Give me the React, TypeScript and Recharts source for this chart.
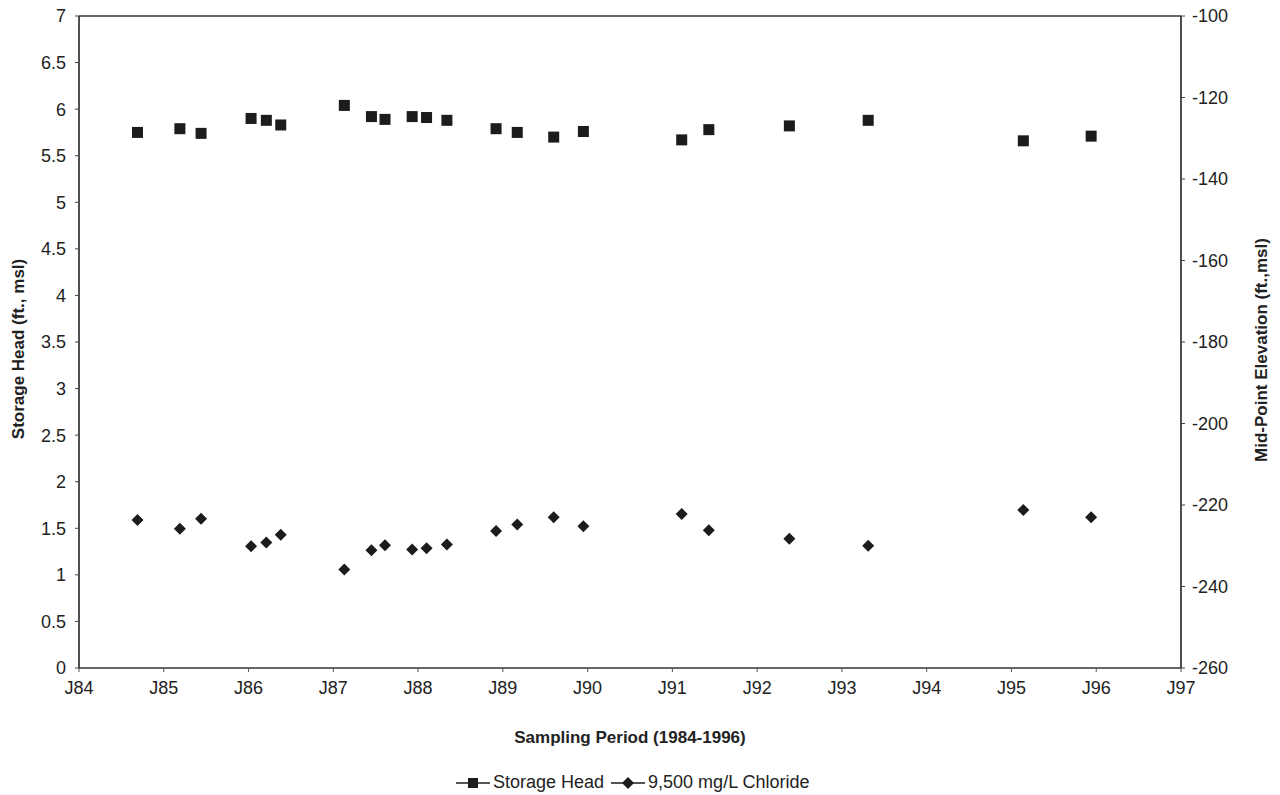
import React from 'react';
import { ComposedChart, Scatter, XAxis, YAxis, Legend, Label, ReferenceLine } from 'recharts';

// Sampling dates as decimal years (two-digit year + fraction)
const sampleDates = [
  84.69, 85.19, 85.44, 86.03, 86.21, 86.38, 87.13, 87.45, 87.61, 87.93, 88.1,
  88.34, 88.92, 89.17, 89.6, 89.95, 91.11, 91.43, 92.38, 93.31, 95.14, 95.94,
];
// Storage head (ft., msl) – left axis
const storageHead = [
  5.75, 5.79, 5.74, 5.9, 5.88, 5.83, 6.04, 5.92, 5.89, 5.92, 5.91,
  5.88, 5.79, 5.75, 5.7, 5.76, 5.67, 5.78, 5.82, 5.88, 5.66, 5.71,
];
// 9,500 mg/L chloride mid-point elevation (ft., msl) – right axis
const chlorideElevation = [
  -223.7, -225.8, -223.4, -230.1, -229.2, -227.3, -235.8, -231.1, -229.9, -230.9, -230.6,
  -229.7, -226.4, -224.8, -223.0, -225.2, -222.2, -226.2, -228.3, -230.0, -221.2, -223.0,
];
const yearTicks = [84, 85, 86, 87, 88, 89, 90, 91, 92, 93, 94, 95, 96, 97];
const leftTicks = [0, 0.5, 1, 1.5, 2, 2.5, 3, 3.5, 4, 4.5, 5, 5.5, 6, 6.5, 7];
const rightTicks = [-260, -240, -220, -200, -180, -160, -140, -120, -100];
const seriesNames = ['Storage Head', '9,500 mg/L Chloride'];

const headData = sampleDates.map((x, i) => ({ x, y: storageHead[i] }));
const chlorideData = sampleDates.map((x, i) => ({ x, y: chlorideElevation[i] }));

const INK = '#1c1c1c';
const FONT = '"Liberation Sans", Arial, sans-serif';

const SquareShape = (props: any) => {
  const { cx, cy } = props;
  if (cx == null || cy == null) return null;
  return <rect x={cx - 5.5} y={cy - 5.5} width={11} height={11} fill={INK} />;
};

const DiamondShape = (props: any) => {
  const { cx, cy } = props;
  if (cx == null || cy == null) return null;
  const r = 6;
  return <path d={`M${cx},${cy - r}L${cx + r},${cy}L${cx},${cy + r}L${cx - r},${cy}Z`} fill={INK} />;
};

const LegendContent = () => (
  <div style={{ display: 'flex', alignItems: 'center', fontFamily: FONT, fontSize: 18, color: '#222', whiteSpace: 'nowrap' }}>
    {seriesNames.map((name, i) => (
      <div key={name} style={{ display: 'flex', alignItems: 'center', marginRight: 6 }}>
        <svg width={36} height={14}>
          <line x1={1} y1={7} x2={35} y2={7} stroke={INK} strokeWidth={1.3} />
          {i === 0 ? (
            <rect x={13} y={2} width={10} height={10} fill={INK} />
          ) : (
            <path d="M18,1L24,7L18,13L12,7Z" fill={INK} />
          )}
        </svg>
        <span style={{ marginLeft: 2 }}>{name}</span>
      </div>
    ))}
  </div>
);

const tickStyle = { fontFamily: FONT, fontSize: 18, fill: '#222' };

export default function App() {
  return (
    <div style={{ position: 'absolute', left: 0, top: 0, width: 1280, height: 795, background: '#fff' }}>
      <ComposedChart
        width={1280}
        height={795}
        margin={{ top: 16, right: 39, left: 19, bottom: 97 }}
      >
        <XAxis
          xAxisId="main"
          type="number"
          dataKey="x"
          domain={[84, 97]}
          ticks={yearTicks}
          tickFormatter={(v: number) => `J${v}`}
          tick={tickStyle}
          tickSize={4}
          tickMargin={9}
          height={30}
          axisLine={{ stroke: '#333', strokeWidth: 1.5 }}
          tickLine={{ stroke: '#555' }}
          allowDataOverflow
        >
          <Label
            content={() => (
              <text x={630} y={743} textAnchor="middle" fontFamily={FONT} fontSize={17} fontWeight="bold" fill="#222">
                Sampling Period (1984-1996)
              </text>
            )}
          />
        </XAxis>
        <YAxis
          yAxisId="left"
          orientation="left"
          type="number"
          dataKey="y"
          domain={[0, 7]}
          ticks={leftTicks}
          tick={tickStyle}
          tickSize={4}
          tickMargin={9}
          width={60}
          axisLine={{ stroke: '#222', strokeWidth: 1.6 }}
          tickLine={{ stroke: '#444' }}
          allowDataOverflow
        >
          <Label
            content={() => (
              <text
                x={24}
                y={349}
                transform="rotate(-90, 24, 349)"
                textAnchor="middle"
                fontFamily={FONT}
                fontSize={17}
                fontWeight="bold"
                fill="#222"
              >
                Storage Head (ft., msl)
              </text>
            )}
          />
        </YAxis>
        <YAxis
          yAxisId="right"
          orientation="right"
          type="number"
          dataKey="y"
          domain={[-260, -100]}
          ticks={rightTicks}
          tick={tickStyle}
          tickSize={4}
          tickMargin={7}
          width={60}
          axisLine={{ stroke: '#222', strokeWidth: 1.6 }}
          tickLine={{ stroke: '#444' }}
          allowDataOverflow
        >
          <Label
            content={() => (
              <text
                x={1267}
                y={350}
                transform="rotate(-90, 1267, 350)"
                textAnchor="middle"
                fontFamily={FONT}
                fontSize={17}
                fontWeight="bold"
                fill="#222"
              >
                Mid-Point Elevation (ft.,msl)
              </text>
            )}
          />
        </YAxis>
        <ReferenceLine xAxisId="main" yAxisId="left" y={7} stroke="#333" strokeWidth={1.3} ifOverflow="extendDomain" />
        <Scatter
          name={seriesNames[0]}
          data={headData}
          dataKey="y"
          xAxisId="main"
          yAxisId="left"
          shape={SquareShape}
          fill={INK}
          isAnimationActive={false}
        />
        <Scatter
          name={seriesNames[1]}
          data={chlorideData}
          dataKey="y"
          xAxisId="main"
          yAxisId="right"
          shape={DiamondShape}
          fill={INK}
          isAnimationActive={false}
        />
        <Legend
          layout="horizontal"
          verticalAlign="middle"
          align="center"
          content={LegendContent}
          wrapperStyle={{ position: 'absolute', left: 455, top: 772, width: 'auto' }}
        />
      </ComposedChart>
    </div>
  );
}
